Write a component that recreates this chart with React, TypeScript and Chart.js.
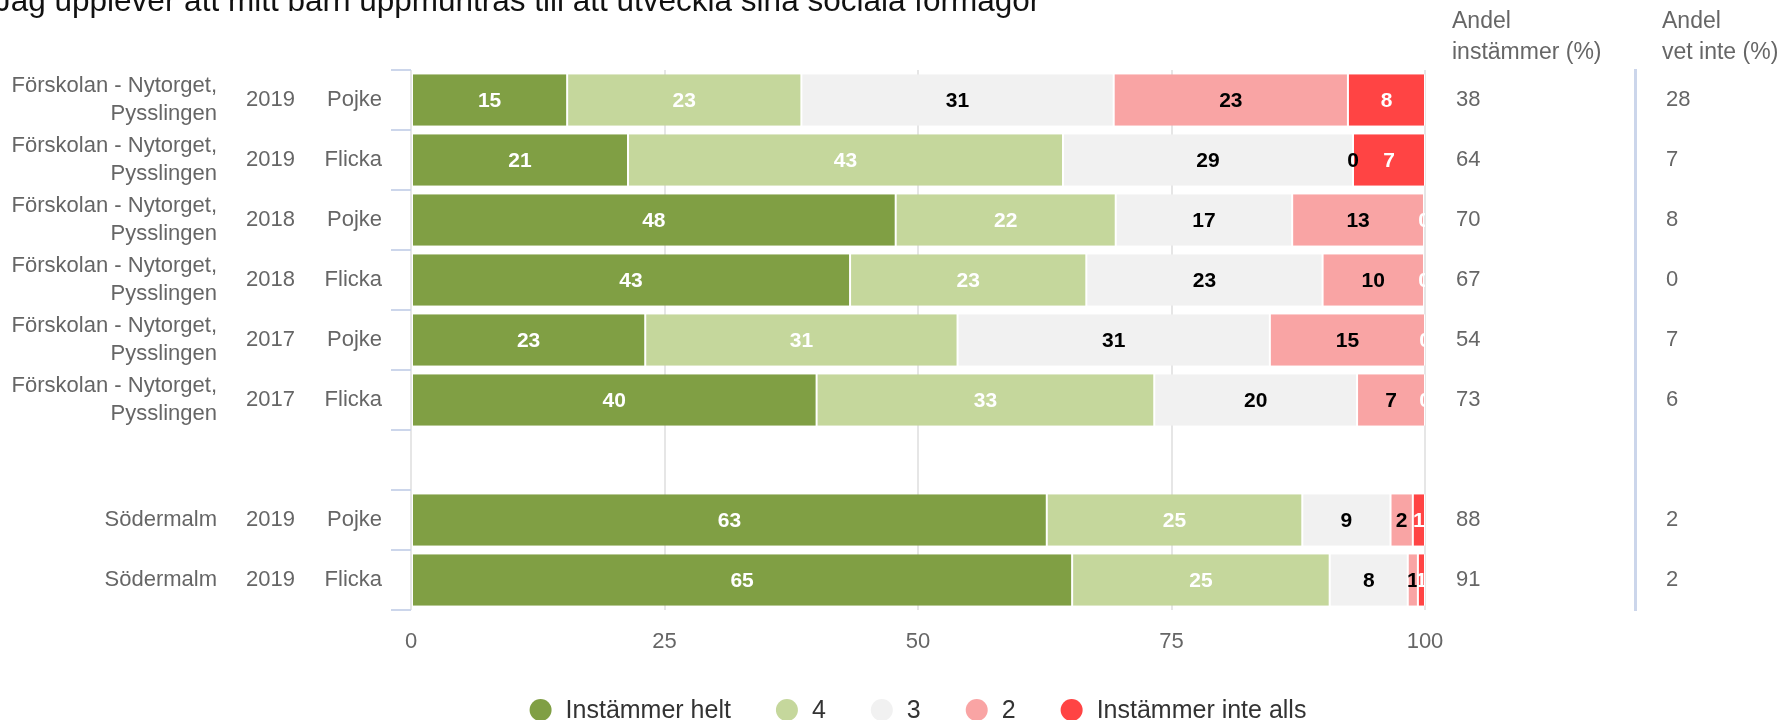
import React, { useEffect, useRef } from 'react';
import { Chart, registerables } from 'chart.js';

Chart.register(...registerables);

const FONT = '"Liberation Sans", Arial, Helvetica, sans-serif';

const TITLE = 'Jag upplever att mitt barn uppmuntras till att utveckla sina sociala förmågor';
const HEADER_1 = ['Andel', 'instämmer (%)'];
const HEADER_2 = ['Andel', 'vet inte (%)'];

const NYT = ['Förskolan - Nytorget,', 'Pysslingen'];
const schools: (string | string[])[] = [NYT, NYT, NYT, NYT, NYT, NYT, '', 'Södermalm', 'Södermalm'];
const years = ['2019', '2019', '2018', '2018', '2017', '2017', '', '2019', '2019'];
const genders = ['Pojke', 'Flicka', 'Pojke', 'Flicka', 'Pojke', 'Flicka', '', 'Pojke', 'Flicka'];

const seriesNames = ['Instämmer helt', '4', '3', '2', 'Instämmer inte alls'];
const seriesColors = ['#809f44', '#c5d79c', '#f1f1f1', '#f9a4a4', '#ff4444'];
const labelColors = ['#ffffff', '#ffffff', '#000000', '#000000', '#ffffff'];

const instammerHelt = [15.4, 21.4, 47.8, 43.3, 23.1, 40.0, null, 62.7, 65.2];
const val4 = [23.1, 42.9, 21.7, 23.3, 30.8, 33.3, null, 25.2, 25.4];
const val3 = [30.8, 28.6, 17.4, 23.3, 30.8, 20.0, null, 8.7, 7.7];
const val2 = [23.1, 0, 13.0, 10.0, 15.3, 6.7, null, 2.2, 1.0];
const instammerInteAlls = [7.6, 7.1, 0, 0, 0, 0, null, 1.2, 0.7];

const andelInstammer = [38, 64, 70, 67, 54, 73, null, 88, 91];
const andelVetInte = [28, 7, 8, 0, 7, 6, null, 2, 2];

const X_MIN = 0;
const X_MAX = 100;
const X_STEP = 25;

const seriesValues = [instammerHelt, val4, val3, val2, instammerInteAlls];

const segLabelPlugin = {
  id: 'segLabels',
  afterDatasetsDraw(chart: any) {
    const { ctx, chartArea } = chart;
    ctx.save();
    ctx.beginPath();
    ctx.rect(chartArea.left, chartArea.top, chartArea.right - chartArea.left, chartArea.bottom - chartArea.top);
    ctx.clip();
    ctx.font = `bold 21px ${FONT}`;
    ctx.textAlign = 'center';
    ctx.textBaseline = 'middle';
    chart.data.datasets.forEach((ds: any, i: number) => {
      const meta = chart.getDatasetMeta(i);
      meta.data.forEach((bar: any, j: number) => {
        const v = ds.data[j];
        if (v == null) return;
        const p = bar.getProps(['x', 'y', 'base'], true);
        ctx.fillStyle = labelColors[i];
        ctx.fillText(String(Math.round(v)), (p.x + p.base) / 2, p.y + 1);
      });
    });
    ctx.restore();
  },
};

const decorPlugin = {
  id: 'decor',
  afterDraw(chart: any) {
    const { ctx } = chart;
    ctx.save();
    // title
    ctx.font = `31.5px ${FONT}`;
    ctx.fillStyle = '#111111';
    ctx.textAlign = 'left';
    ctx.textBaseline = 'alphabetic';
    ctx.fillText(TITLE, -5, 11);

    // column headers
    ctx.font = `23px ${FONT}`;
    ctx.fillStyle = '#666666';
    const h1x = chart.scales.yR1.left + 27;
    const h2x = chart.scales.yR2.left + 27;
    ctx.fillText(HEADER_1[0], h1x, 28);
    ctx.fillText(HEADER_1[1], h1x, 59);
    ctx.fillText(HEADER_2[0], h2x, 28);
    ctx.fillText(HEADER_2[1], h2x, 59);

    // legend
    const fs = 25;
    ctx.font = `${fs}px ${FONT}`;
    const r = 11;
    const textGap = 25;
    const itemGap = 56;
    const ds = chart.data.datasets;
    const widths = ds.map((d: any) => ctx.measureText(d.label).width);
    let total = r;
    widths.forEach((w: number, i: number) => {
      total += textGap + w;
      if (i < widths.length - 1) total += itemGap;
    });
    const cx = 918;
    const ly = 710;
    let mx = cx - total / 2 + r;
    ds.forEach((d: any, i: number) => {
      ctx.beginPath();
      ctx.arc(mx, ly, r, 0, Math.PI * 2);
      ctx.fillStyle = d.backgroundColor;
      ctx.fill();
      ctx.fillStyle = '#333333';
      ctx.textBaseline = 'middle';
      ctx.fillText(d.label, mx + textGap, ly + 1);
      mx += textGap + widths[i] + itemGap;
    });
    ctx.restore();
  },
};

const tickFont = { size: 22, family: FONT };

export default function App() {
  const ref = useRef<HTMLCanvasElement>(null);

  useEffect(() => {
    if (!ref.current) return;
    const chart = new Chart(ref.current, {
      type: 'bar',
      data: {
        labels: genders,
        datasets: seriesNames.map((name, i) => ({
          label: name,
          data: seriesValues[i] as any,
          backgroundColor: seriesColors[i],
          borderColor: '#ffffff',
          borderWidth: { top: 0, bottom: 0, left: 1, right: 1 },
          borderSkipped: false,
          barPercentage: 0.862,
          categoryPercentage: 1,
        })),
      },
      options: {
        indexAxis: 'y',
        responsive: false,
        devicePixelRatio: 1,
        animation: false,
        layout: { padding: { top: 70, left: 0, right: 0, bottom: 0 } },
        plugins: {
          legend: { display: false },
          tooltip: { enabled: false },
          title: { display: false },
        },
        scales: {
          x: {
            type: 'linear',
            position: 'bottom',
            stacked: true,
            min: X_MIN,
            max: X_MAX,
            ticks: { stepSize: X_STEP, padding: 19, font: tickFont, color: '#666666' },
            grid: { color: '#e6e6e6', lineWidth: 2, drawTicks: false },
            border: { display: false },
            afterFit: (s: any) => { s.height = 110; },
          },
          y: {
            type: 'category',
            position: 'left',
            stacked: true,
            weight: 0,
            offset: true,
            grid: {
              display: true,
              drawOnChartArea: false,
              drawTicks: true,
              tickLength: 20,
              color: '#ccd6eb',
              lineWidth: 2,
              offset: true,
            },
            border: { display: false },
            ticks: { padding: 9, font: tickFont, color: '#666666', autoSkip: false },
            afterFit: (s: any) => { s.width = 111; },
          },
          yYear: {
            type: 'category',
            position: 'left',
            weight: 1,
            offset: true,
            labels: years,
            grid: { display: false, drawTicks: false },
            border: { display: false },
            ticks: { padding: 5, font: tickFont, color: '#666666', autoSkip: false },
            afterFit: (s: any) => { s.width = 75; },
          },
          yName: {
            type: 'category',
            position: 'left',
            weight: 2,
            offset: true,
            labels: schools as any,
            grid: { display: false, drawTicks: false },
            border: { display: false },
            ticks: { padding: 8, font: { ...tickFont, lineHeight: 1.3 }, color: '#666666', autoSkip: false },
            afterFit: (s: any) => { s.width = 225; },
          },
          yR1: {
            type: 'category',
            position: 'right',
            weight: 0,
            offset: true,
            labels: andelInstammer.map((v) => (v == null ? '' : String(v))),
            grid: { display: false, drawTicks: false },
            border: { display: false },
            ticks: { padding: 31, font: tickFont, color: '#666666', autoSkip: false },
            afterFit: (s: any) => { s.width = 210; },
          },
          yR2: {
            type: 'category',
            position: 'right',
            weight: 1,
            offset: true,
            labels: andelVetInte.map((v) => (v == null ? '' : String(v))),
            grid: { display: false, drawTicks: false },
            border: { display: true, color: '#ccd6eb', width: 3 },
            ticks: { padding: 31, font: tickFont, color: '#666666', autoSkip: false },
            afterFit: (s: any) => { s.width = 152; },
          },
        } as any,
      },
      plugins: [segLabelPlugin, decorPlugin],
    });
    return () => chart.destroy();
  }, []);

  return (
    <div style={{ position: 'fixed', left: 0, top: 0, width: 1787, height: 720, background: '#ffffff' }}>
      <canvas ref={ref} width={1787} height={720} style={{ width: '1787px', height: '720px', display: 'block' }} />
    </div>
  );
}
